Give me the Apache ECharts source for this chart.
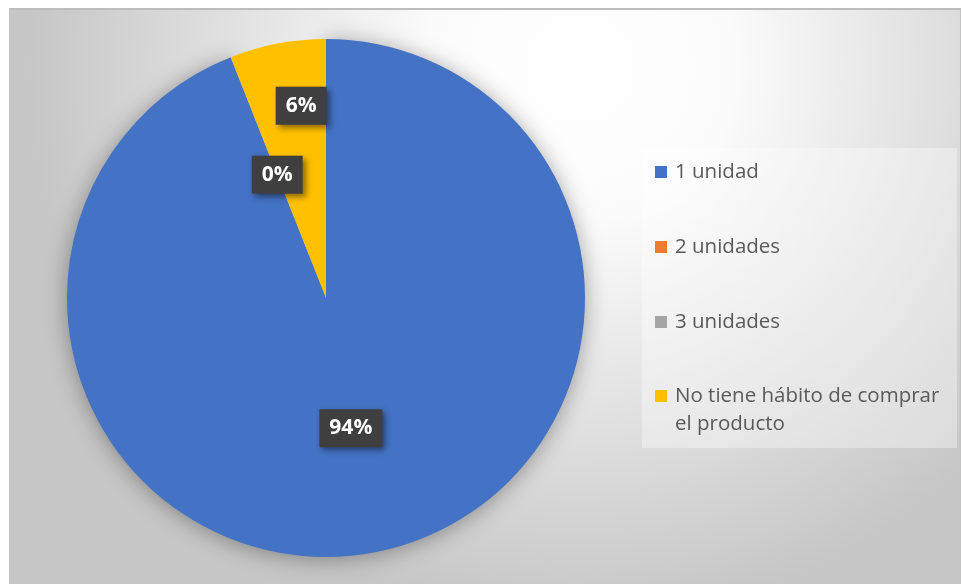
<!DOCTYPE html>
<html>
<head>
<meta charset="utf-8">
<script src="https://cdn.jsdelivr.net/npm/echarts@6/dist/echarts.min.js"></script>
<style>
  html, body { margin: 0; padding: 0; background: #ffffff; }
  #frame { position: absolute; left: 9px; top: 8px; width: 950px; height: 580px;
           border-top: 2px solid #bdbdbd; border-left: 1px solid #c4c4c4; border-right: 1px solid #c4c4c4; }
  #chart { width: 100%; height: 100%; }
</style>
</head>
<body>
<div id="frame"><div id="chart"></div></div>
<script>
// Respuestas: unidades compradas por ocasión
const categories = ['1 unidad', '2 unidades', '3 unidades', 'No tiene hábito de comprar el producto'];
const shares = [94, 0, 0, 6];
const colors = ['#4472c4', '#ed7d31', '#a5a5a5', '#ffc000'];

const chart = echarts.init(document.getElementById('chart'));

const pieData = categories.map((name, i) => {
  const item = { name: name, value: shares[i], itemStyle: { color: colors[i] } };
  if (i === 0) {
    item.itemStyle.shadowBlur = 22;
    item.itemStyle.shadowColor = 'rgba(0,0,0,0.35)';
    item.itemStyle.shadowOffsetY = 2;
  }
  if (i === 3) {
    item.label = { offset: [0, -62] };
  }
  return item;
});

const legendText = {
  fontFamily: 'Open Sans, Noto Sans, sans-serif',
  fontSize: 20.5,
  color: '#595959',
  lineHeight: 28,
  padding: [0, 0, 0, 3]
};
const legendBase = {
  orient: 'vertical',
  left: 645,
  padding: 0,
  itemWidth: 12, itemHeight: 12,
  itemGap: 47,
  icon: 'rect'
};

chart.setOption({
  backgroundColor: {
    type: 'radial', x: 0.6, y: 0.1, r: 0.95,
    colorStops: [
      { offset: 0, color: '#ffffff' },
      { offset: 0.28, color: '#fbfbfb' },
      { offset: 1, color: '#c6c6c6' }
    ]
  },
  animation: false,
  // legend panel
  graphic: [{
    type: 'rect', z: -1, silent: true,
    shape: { x: 632, y: 138, width: 315, height: 300 },
    style: { fill: 'rgba(255,255,255,0.35)' }
  }],
  legend: [
    Object.assign({}, legendBase, {
      top: 148,
      data: categories.slice(0, 3),
      textStyle: legendText
    }),
    Object.assign({}, legendBase, {
      top: 344,
      data: categories.slice(3),
      // leading blank line keeps the marker level with the first text line
      formatter: function () { return '\nNo tiene hábito de comprar\nel producto'; },
      textStyle: legendText
    })
  ],
  series: [{
    type: 'pie',
    center: [316, 288],
    radius: 259,
    startAngle: 90,
    clockwise: true,
    stillShowZeroSum: true,
    minShowLabelAngle: 0,
    avoidLabelOverlap: false,
    label: {
      show: true,
      position: 'inside',
      formatter: function (p) { return Math.round(p.percent) + '%'; },
      color: '#ffffff',
      fontFamily: 'Open Sans, Noto Sans, sans-serif',
      fontWeight: 'bold',
      fontSize: 21,
      lineHeight: 24,
      backgroundColor: '#3f3f3f',
      padding: [8, 10, 6, 10],
      shadowColor: 'rgba(0,0,0,0.45)',
      shadowBlur: 6,
      shadowOffsetX: 3,
      shadowOffsetY: 3
    },
    labelLine: { show: false },
    emphasis: { disabled: true },
    data: pieData
  }]
});
</script>
</body>
</html>
